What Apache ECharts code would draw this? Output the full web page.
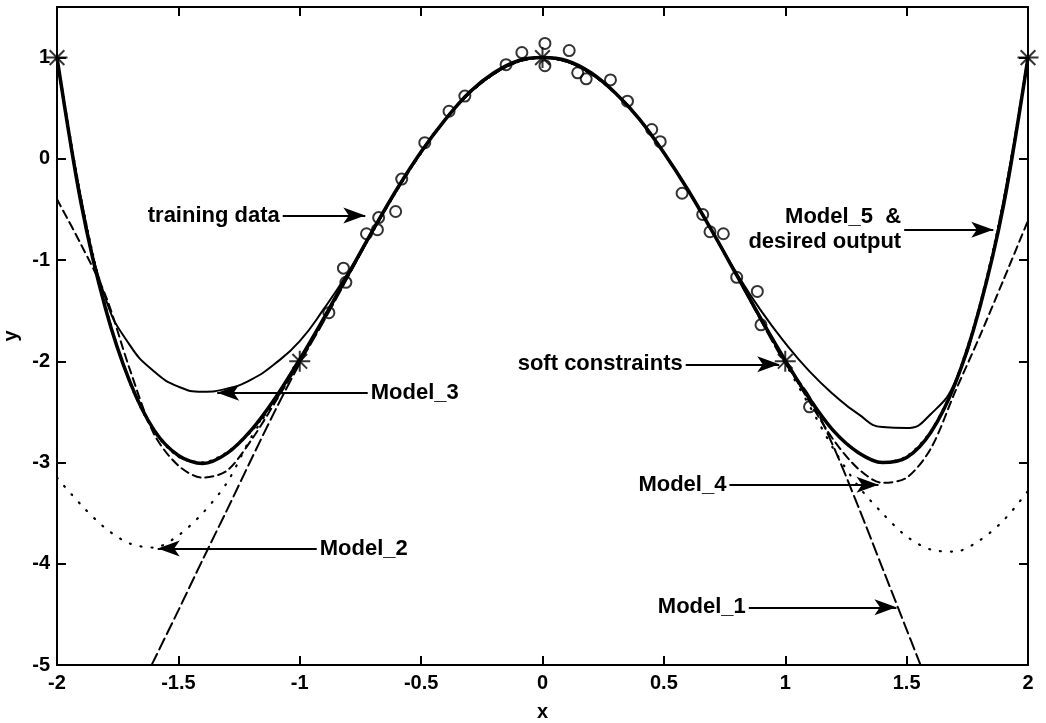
<!DOCTYPE html>
<html>
<head>
<meta charset="utf-8">
<script src="https://cdn.jsdelivr.net/npm/echarts@6/dist/echarts.min.js"></script>
<style>
  html, body { margin: 0; padding: 0; background: #fff; }
  #chart { width: 1046px; height: 723px; }
</style>
</head>
<body>
<div id="chart"></div>
<script>
// Sample positions along x shared by every model curve
const xs = [-2, -1.9, -1.8, -1.7, -1.6, -1.5, -1.4, -1.3, -1.2, -1.1, -1, -0.9, -0.8, -0.7, -0.6, -0.5, -0.4, -0.3, -0.2, -0.1,
  0, 0.1, 0.2, 0.3, 0.4, 0.5, 0.6, 0.7, 0.8, 0.9, 1, 1.1, 1.2, 1.3, 1.4, 1.5, 1.6, 1.7, 1.8, 1.9, 2];

const desiredOutput = [1, -0.41, -1.46, -2.21, -2.69, -2.94, -3.0, -2.9, -2.69, -2.38, -2.0, -1.58, -1.15, -0.72, -0.31, 0.06, 0.39, 0.65, 0.84, 0.96,
  1, 0.96, 0.84, 0.65, 0.39, 0.06, -0.31, -0.72, -1.15, -1.58, -2.0, -2.38, -2.69, -2.9, -3.0, -2.94, -2.69, -2.21, -1.46, -0.41, 1];

const model5 = [1, -0.45, -1.48, -2.2, -2.68, -2.93, -3.01, -2.91, -2.68, -2.36, -1.98, -1.57, -1.14, -0.71, -0.3, 0.07, 0.39, 0.66, 0.85, 0.97,
  1.0, 0.97, 0.85, 0.65, 0.39, 0.06, -0.31, -0.72, -1.15, -1.58, -1.99, -2.37, -2.69, -2.9, -3.0, -2.95, -2.7, -2.22, -1.48, -0.45, 1];

const model4 = [-0.4, -0.85, -1.35, -2.08, -2.72, -3.03, -3.15, -3.08, -2.78, -2.4, -2.0, -1.58, -1.15, -0.72, -0.31, 0.06, 0.39, 0.65, 0.84, 0.96,
  1.0, 0.96, 0.84, 0.65, 0.39, 0.06, -0.31, -0.72, -1.15, -1.58, -2.0, -2.4, -2.78, -3.06, -3.2, -3.15, -2.86, -2.3, -1.76, -1.19, -0.61];

const model3 = [1.0, -0.4, -1.38, -1.84, -2.1, -2.25, -2.3, -2.27, -2.18, -2.02, -1.8, -1.48, -1.12, -0.71, -0.3, 0.07, 0.39, 0.65, 0.84, 0.96,
  1.0, 0.96, 0.84, 0.65, 0.39, 0.06, -0.31, -0.72, -1.13, -1.5, -1.82, -2.1, -2.33, -2.52, -2.65, -2.66, -2.52, -2.2, -1.46, -0.4, 1.0];

const model2 = [-3.15, -3.42, -3.65, -3.8, -3.84, -3.72, -3.5, -3.2, -2.75, -2.38, -2.0, -1.59, -1.15, -0.72, -0.31, 0.06, 0.39, 0.65, 0.84, 0.96,
  1.0, 0.96, 0.84, 0.65, 0.39, 0.06, -0.31, -0.72, -1.15, -1.59, -2.02, -2.44, -2.87, -3.23, -3.5, -3.73, -3.86, -3.88, -3.77, -3.57, -3.28];

const model1 = [null, null, null, -5.45, -4.95, -4.46, -3.96, -3.47, -2.97, -2.48, -2.02, -1.6, -1.16, -0.72, -0.3, 0.07, 0.39, 0.65, 0.84, 0.96,
  1.0, 0.96, 0.84, 0.65, 0.39, 0.06, -0.31, -0.72, -1.15, -1.6, -2.02, -2.35, -2.85, -3.43, -4.04, -4.65, -5.26, null, null, null, null];

// Noisy training samples
const trainX = [-0.88, -0.81, -0.82, -0.725, -0.68, -0.675, -0.605, -0.58, -0.485, -0.385, -0.32, -0.15, -0.085, 0.01, 0.01, 0.11, 0.145, 0.18,
  0.28, 0.35, 0.45, 0.485, 0.575, 0.66, 0.69, 0.745, 0.80, 0.885, 0.90, 1.10];
const trainY = [-1.52, -1.22, -1.08, -0.74, -0.70, -0.58, -0.52, -0.20, 0.16, 0.47, 0.62, 0.93, 1.05, 1.14, 0.92, 1.07, 0.85, 0.79,
  0.78, 0.57, 0.29, 0.17, -0.34, -0.55, -0.72, -0.74, -1.17, -1.31, -1.64, -2.45];

// Soft constraint points
const constraintX = [-2, -1, 0, 1, 2];
const constraintY = [1, -2, 1, -2, 1];

// Annotation arrows: label, y level, tail x, head x
const noteText = ['training data', 'Model_3', 'Model_2', 'soft constraints', 'Model_4', 'Model_1', 'Model_5  &\ndesired output'];
const noteY = [-0.56, -2.31, -3.85, -2.03, -3.22, -4.43, -0.7];
const noteFrom = [-1.07, -0.72, -0.93, 0.59, 0.77, 0.85, 1.49];
const noteTo = [-0.73, -1.34, -1.585, 0.975, 1.384, 1.458, 1.857];

const xTicks = { min: -2, max: 2, interval: 0.5 };
const yTicks = { min: -5, max: 1.5, interval: 1 };

const FONT = 'Liberation Sans';
const pair = (ys) => xs.map((x, i) => [x, ys[i]]);

const frameLine = { onZero: false, lineStyle: { color: '#000', width: 2 } };
const innerTick = { inside: true, length: 9, lineStyle: { color: '#000', width: 2 } };

function curve(name, ys, width, type, z, smooth) {
  return {
    name, type: 'line', data: pair(ys), showSymbol: false, symbol: 'none',
    smooth, clip: true, z, connectNulls: false,
    lineStyle: { color: '#000', width, type, cap: 'round' }
  };
}

const chart = echarts.init(document.getElementById('chart'), null, { renderer: 'canvas' });
chart.setOption({
  animation: false,
  backgroundColor: '#fff',
  grid: { left: 57, right: 18, top: 7, bottom: 58, containLabel: false, outerBoundsMode: 'none' },
  xAxis: [
    {
      type: 'value', position: 'bottom', ...xTicks,
      axisLine: frameLine, axisTick: innerTick, splitLine: { show: false },
      axisLabel: { color: '#000', fontSize: 20, fontWeight: 'bold', fontFamily: FONT, margin: 8 },
      name: 'x', nameLocation: 'middle', nameGap: 37,
      nameTextStyle: { color: '#000', fontSize: 20, fontWeight: 'bold', fontFamily: FONT }
    },
    {
      type: 'value', position: 'top', ...xTicks,
      axisLine: frameLine, axisTick: innerTick, splitLine: { show: false },
      axisLabel: { show: false }
    }
  ],
  yAxis: [
    {
      type: 'value', position: 'left', ...yTicks,
      axisLine: frameLine, axisTick: innerTick, splitLine: { show: false },
      axisLabel: { color: '#000', fontSize: 20, fontWeight: 'bold', fontFamily: FONT, margin: 7, showMaxLabel: false },
      name: 'y', nameLocation: 'middle', nameGap: 35,
      nameTextStyle: { color: '#000', fontSize: 20, fontWeight: 'bold', fontFamily: FONT }
    },
    {
      type: 'value', position: 'right', ...yTicks,
      axisLine: frameLine, axisTick: innerTick, splitLine: { show: false },
      axisLabel: { show: false }
    }
  ],
  series: [
    curve('Model_1', model1, 2, [12, 5], 3, 0.3),
    curve('Model_2', model2, 2.2, [1, 10], 3, 0.3),
    curve('Model_3', model3, 2, 'solid', 3, 0.5),
    curve('Model_4', model4, 2, [8, 5], 3, 0.3),
    curve('Model_5', model5, 3.5, 'solid', 4, 0.3),
    curve('desired output', desiredOutput, 2.5, [1, 7], 5, 0.3),
    {
      name: 'training data', type: 'scatter', z: 6,
      data: trainX.map((x, i) => [x, trainY[i]]),
      symbol: 'circle', symbolSize: 11,
      itemStyle: { color: 'rgba(255,255,255,0)', borderColor: '#000', borderWidth: 2 },
      markLine: {
        silent: true, animation: false,
        symbol: ['none', 'arrow'], symbolSize: [12, 22],
        lineStyle: { color: '#000', width: 2, type: 'solid' },
        label: {
          show: true, position: 'start', distance: 3, formatter: '{b}',
          color: '#000', fontSize: 22, fontWeight: 'bold', fontFamily: FONT, lineHeight: 25
        },
        data: noteText.map((t, i) => [
          { name: t, coord: [noteFrom[i], noteY[i]] },
          { coord: [noteTo[i], noteY[i]] }
        ])
      }
    },
    {
      name: 'soft constraints', type: 'scatter', z: 7,
      data: constraintX.map((x, i) => [x, constraintY[i]]),
      symbol: 'path://M10,0L10,20M0,10L20,10M3,3L17,17M3,17L17,3',
      symbolSize: 21,
      itemStyle: { color: 'rgba(255,255,255,0)', borderColor: '#000', borderWidth: 2 }
    }
  ]
});
</script>
</body>
</html>
